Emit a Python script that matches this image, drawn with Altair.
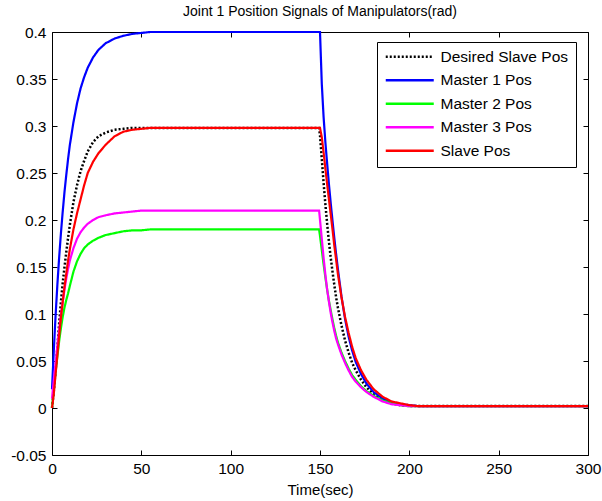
import altair as alt
import pandas as pd

# time samples (sec)
T = [0, 1, 2, 3, 4, 5, 6, 7, 8, 9, 10,
     12, 14, 16, 18, 20,
     23, 26, 30, 35, 40, 45, 50, 55, 60,
     100, 149.5,
     150, 151, 152, 153, 154, 155, 156, 157, 158, 159, 160,
     162, 164, 166, 168, 170,
     173, 176, 180, 185, 190, 195, 200, 205, 210,
     250, 300]

desired = [0.0, 0.018, 0.040, 0.064, 0.090, 0.113, 0.133, 0.150, 0.166, 0.181, 0.195,
           0.219, 0.237, 0.252, 0.263, 0.273,
           0.283, 0.289, 0.293, 0.296, 0.297, 0.298, 0.298, 0.298, 0.298,
           0.298, 0.298,
           0.290, 0.265, 0.240, 0.217, 0.196, 0.177, 0.160, 0.145, 0.131, 0.118, 0.107,
           0.088, 0.072, 0.059, 0.048, 0.040,
           0.030, 0.022, 0.015, 0.009, 0.005, 0.003, 0.002, 0.002, 0.002,
           0.002, 0.002]

master1 = [0.020, 0.061, 0.098, 0.131, 0.160, 0.186, 0.209, 0.230, 0.248, 0.265, 0.280,
           0.304, 0.324, 0.340, 0.352, 0.362,
           0.373, 0.381, 0.388, 0.393, 0.396, 0.398, 0.399, 0.400, 0.400,
           0.400, 0.400,
           0.400, 0.345, 0.310, 0.283, 0.260, 0.238, 0.218, 0.199, 0.181, 0.164, 0.148,
           0.119, 0.095, 0.076, 0.061, 0.049,
           0.036, 0.026, 0.017, 0.010, 0.006, 0.004, 0.003, 0.002, 0.002,
           0.002, 0.002]

master2 = [0.0, 0.020, 0.038, 0.055, 0.071, 0.085, 0.097, 0.107, 0.115, 0.122, 0.130,
           0.145, 0.156, 0.164, 0.170, 0.174,
           0.178, 0.181, 0.184, 0.186, 0.188, 0.189, 0.189, 0.190, 0.190,
           0.190, 0.190,
           0.183, 0.168, 0.153, 0.139, 0.126, 0.114, 0.104, 0.094, 0.085, 0.077, 0.070,
           0.059, 0.050, 0.042, 0.035, 0.030,
           0.023, 0.018, 0.013, 0.008, 0.005, 0.003, 0.002, 0.002, 0.002,
           0.002, 0.002]

master3 = [0.010, 0.030, 0.048, 0.066, 0.083, 0.099, 0.113, 0.126, 0.138, 0.148, 0.157,
           0.170, 0.180, 0.187, 0.192, 0.196,
           0.200, 0.203, 0.205, 0.207, 0.208, 0.209, 0.210, 0.210, 0.210,
           0.210, 0.210,
           0.200, 0.180, 0.160, 0.142, 0.126, 0.113, 0.101, 0.091, 0.082, 0.074, 0.068,
           0.057, 0.048, 0.040, 0.033, 0.028,
           0.022, 0.017, 0.012, 0.007, 0.004, 0.003, 0.002, 0.002, 0.002,
           0.002, 0.002]

slave = [0.0, 0.015, 0.036, 0.056, 0.077, 0.096, 0.113, 0.129, 0.143, 0.157, 0.169,
         0.190, 0.207, 0.222, 0.237, 0.250,
         0.262, 0.271, 0.280, 0.289, 0.294, 0.296, 0.297, 0.298, 0.298,
         0.298, 0.298,
         0.298, 0.288, 0.272, 0.255, 0.238, 0.222, 0.206, 0.190, 0.173, 0.158, 0.143,
         0.118, 0.097, 0.080, 0.065, 0.053,
         0.040, 0.030, 0.020, 0.012, 0.007, 0.005, 0.003, 0.002, 0.002,
         0.002, 0.002]

names = ["Desired Slave Pos", "Master 1 Pos", "Master 2 Pos", "Master 3 Pos", "Slave Pos"]
colors = ["#000000", "#0000ff", "#00ff00", "#ff00ff", "#ff0000"]
dashes = [[2, 2], [1, 0], [1, 0], [1, 0], [1, 0]]
x_ticks = [0, 50, 100, 150, 200, 250, 300]
y_ticks = [-0.05, 0, 0.05, 0.1, 0.15, 0.2, 0.25, 0.3, 0.35, 0.4]

rows = []
for name, vals in zip(names, [desired, master1, master2, master3, slave]):
    for t, v in zip(T, vals):
        rows.append({"t": t, "v": v, "series": name})
df = pd.DataFrame(rows)

FONT = "Liberation Sans"
xs = alt.Scale(domain=[0, 300], nice=False)
ys = alt.Scale(domain=[-0.05, 0.4], nice=False, zero=False)
cs = alt.Scale(domain=names, range=colors)
ds = alt.Scale(domain=names, range=dashes)

legend = alt.Legend(
    title=None, orient="none", legendX=325, legendY=10,
    symbolType="M-4,0H4", symbolSize=144, symbolStrokeWidth=2.5, symbolOffset=18,
    labelFont=FONT, labelFontSize=15.5, labelColor="#000000", labelOffset=23,
    padding=7, rowPadding=6.5, fillColor="white", strokeColor="black",
)

x_axis = alt.Axis(title="Time(sec)", values=x_ticks, labelFont=FONT, labelFontSize=15.5,
                  titleFont=FONT, titleFontSize=15, titleFontWeight="normal",
                  labelColor="black", titleColor="black", domainColor="black",
                  tickColor="black", grid=False, tickSize=alt.ExprRef("-5"),
                  labelPadding=11, titlePadding=6, labelFlush=False)
y_axis = alt.Axis(title=None, values=y_ticks, labelFont=FONT, labelFontSize=15.5,
                  labelExpr="toString(round(datum.value*100)/100)",
                  labelColor="black", domainColor="black", tickColor="black",
                  grid=False, tickSize=alt.ExprRef("-5"), labelPadding=11, labelFlush=False)


def series_layer(i, name):
    first = i == 0
    return alt.Chart(df).transform_filter(alt.datum.series == name).mark_line(
        strokeWidth=2.5 if first else 2.2
    ).encode(
        x=alt.X("t:Q", scale=xs, axis=x_axis if first else None),
        y=alt.Y("v:Q", scale=ys, axis=y_axis if first else None),
        color=alt.Color("series:N", scale=cs, legend=legend),
        strokeDash=alt.StrokeDash("series:N", scale=ds, legend=legend),
    )


box = alt.Chart(df).mark_line(opacity=0).encode(
    x=alt.X("t:Q", scale=xs, axis=alt.Axis(orient="top", values=x_ticks, labels=False, title=None,
                                            grid=False, domainColor="black", tickColor="black",
                                            tickSize=alt.ExprRef("-5"))),
    y=alt.Y("v:Q", scale=ys, axis=alt.Axis(orient="right", values=y_ticks, labels=False, title=None,
                                            grid=False, domainColor="black", tickColor="black",
                                            tickSize=alt.ExprRef("-5"))),
)

layers = [series_layer(i, n) for i, n in enumerate(names)] + [box]

chart = alt.layer(*layers).resolve_axis(x="independent", y="independent").properties(
    width=536, height=423,
    title=alt.Title("Joint 1 Position Signals of Manipulators(rad)", font=FONT, fontSize=14,
                    fontWeight="normal", color="black", offset=6),
    autosize=alt.AutoSizeParams(type="none"),
    padding={"left": 52, "top": 32, "right": 14, "bottom": 46},
    background="white",
).configure_view(stroke=None)

chart.save("out.html", embed_options={"renderer": "svg", "actions": False})
